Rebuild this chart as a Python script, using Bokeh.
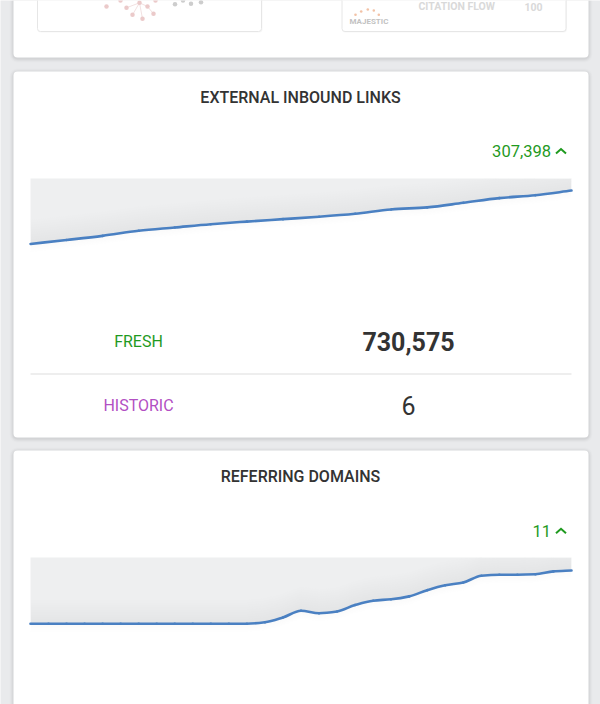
from bokeh.plotting import figure
from bokeh.models import Range1d
from bokeh.core.properties import value
from bokeh.embed import file_html
from bokeh.resources import INLINE

# ---------------- data ----------------
links_values = [423177, 446000, 470000, 499000, 518000, 537000, 552000, 566000,
                580000, 597000, 622000, 634000, 660000, 687000, 704000, 730575]
links_axis_max = 800000
links_title = "EXTERNAL INBOUND LINKS"
links_change = "307,398"
links_labels = ["FRESH", "HISTORIC"]
links_numbers = ["730,575", "6"]

domains_values = [16.2, 16.2, 16.2, 16.2, 16.2, 16.2, 16.2, 16.2, 16.2, 16.2,
                  16.2, 16.2, 16.2, 16.5, 17.5, 18.9, 18.4, 18.75, 20.1, 21.0,
                  21.3, 21.9, 23.2, 24.2, 24.8, 26.2, 26.4, 26.4, 26.5, 27.1, 27.3]
domains_axis_max = 30
domains_title = "REFERRING DOMAINS"
domains_change = "11"

# faded top card contents (network thumbnail + Majestic box)
net_pink_x = [106, 120, 126, 132, 139, 142, 147, 153, 155]
net_pink_y = [6, 0, 7.3, 14.3, 2.3, 18.3, 6, 13.3, 0]
net_grey_x = [174.5, 182.5, 190.5, 200.5]
net_grey_y = [3.7, 0, 3.3, 1.7]
majestic_dot_x = [355, 360.7, 367.3, 373.3, 378.3]
majestic_dot_y = [14.3, 11, 9, 10, 14.3]

# ---------------- layout / style ----------------
W, H = 600, 704
BG = "#e9eaec"
GREEN = "#1f9a1f"
PURPLE = "#b24fc3"
DARK = "#333333"
LINE_BLUE = "#4a80c2"
FONT = value("Roboto")
TITLE_FONT = value("Roboto Medium, Roboto")


def sy(y):
    return H - y


p = figure(width=W, height=H, x_range=Range1d(0, W), y_range=Range1d(0, H),
           x_axis_type=None, y_axis_type=None, toolbar_location=None, tools="",
           output_backend="svg", min_border=0, outline_line_color=None,
           background_fill_color=BG, border_fill_color=BG)

# ---- cards ----
cards = [(13, 588, -10, 57), (13, 588, 71, 437), (13, 588, 450, 730)]
for (l, r, t, b) in cards:
    for d, a in [(4, 0.012), (3, 0.018), (2, 0.025), (1, 0.035)]:
        p.quad(left=l - d, right=r + d, top=sy(t - d + 1), bottom=sy(b + d + 1),
               fill_color="black", fill_alpha=a, line_color=None, border_radius=4 + d)
    p.quad(left=l, right=r, top=sy(t), bottom=sy(b), fill_color="white",
           line_color=None, border_radius=4)

# ---- top card inner boxes (faded) ----
for (l, r) in [(37, 261), (341.5, 565.5)]:
    p.quad(left=l, right=r + 1, top=sy(-10), bottom=sy(32), fill_color="black",
           fill_alpha=0.03, line_color=None, border_radius=3)
    p.quad(left=l, right=r, top=sy(-10), bottom=sy(31), fill_color="white",
           line_color="#e6e6e6", line_width=1, border_radius=3)

hub = (139, 2.3)
p.segment(x0=[hub[0]] * 4, y0=[sy(hub[1])] * 4,
          x1=[132, 142, 126, 147], y1=[sy(14.3), sy(18.3), sy(7.3), sy(6)],
          line_color="#efd9d9", line_width=0.8)
p.segment(x0=[147], y0=[sy(6)], x1=[153], y1=[sy(13.3)], line_color="#efd9d9", line_width=0.8)
p.scatter(x=net_pink_x, y=[sy(v) for v in net_pink_y], size=4.5,
          fill_color="#ebcaca", line_color=None)
p.scatter(x=net_grey_x, y=[sy(v) for v in net_grey_y], size=4.5,
          fill_color="#cdcdcd", line_color=None)
p.scatter(x=majestic_dot_x, y=[sy(v) for v in majestic_dot_y], size=2.6,
          fill_color="#f2c2a6", line_color=None)
p.text(x=[349], y=[sy(21)], text=["MAJESTIC"], text_font=FONT, text_font_size="8px",
       text_font_style="bold", text_color="#c2c2c2", text_align="left",
       text_baseline="middle")
p.text(x=[418, 524], y=[sy(6.3), sy(6.3)], text=["CITATION FLOW", "100"], text_font=FONT,
       text_font_size="10.5px", text_font_style="bold", text_color="#d9d9d9",
       text_align="left", text_baseline="middle")


# ---- sparkline charts ----
def monotone_tangents(xs, ys):
    n = len(xs)
    d = [(ys[i + 1] - ys[i]) / (xs[i + 1] - xs[i]) for i in range(n - 1)]
    m = [d[0]] + [0.0] * (n - 2) + [d[-1]]
    for i in range(1, n - 1):
        if d[i - 1] * d[i] <= 0:
            m[i] = 0.0
        else:
            m[i] = 2.0 / (1.0 / d[i - 1] + 1.0 / d[i])
    return m


def add_chart(name, vals, vmax, x0, x1, ytop, ybot):
    n = len(vals)
    kx = (n - 1) / (x1 - x0)
    xs = -x0 * kx
    p.extra_x_ranges[name] = Range1d(xs, xs + W * kx)
    p0, p1 = H - ybot, H - ytop
    ky = vmax / (p1 - p0)
    ys = -p0 * ky
    p.extra_y_ranges[name] = Range1d(ys, ys + H * ky)
    idx = list(range(n))
    kw = dict(x_range_name=name, y_range_name=name)
    # shadow below line
    for k in range(1, 6):
        p.varea(x=idx, y1=[v - k * 1.6 * ky for v in vals], y2=vals,
                fill_color="#9a9ca0", fill_alpha=0.012, **kw)
    # grey area from line to top
    p.varea(x=idx, y1=vals, y2=[vmax] * n, fill_color="#eeeff0", **kw)
    # darker band above the line
    for k in range(1, 11):
        p.varea(x=idx, y1=vals, y2=[min(vmax, v + k * 2.4 * ky) for v in vals],
                fill_color="#b9bcc0", fill_alpha=0.02, **kw)
    # smooth (monotone cubic) line through the data points
    m = monotone_tangents(idx, vals)
    p.bezier(x0=idx[:-1], y0=vals[:-1], x1=idx[1:], y1=vals[1:],
             cx0=[i + 1 / 3 for i in idx[:-1]],
             cy0=[vals[i] + m[i] / 3 for i in range(n - 1)],
             cx1=[i + 2 / 3 for i in idx[:-1]],
             cy1=[vals[i + 1] - m[i + 1] / 3 for i in range(n - 1)],
             line_color=LINE_BLUE, line_width=2.6, line_cap="round", **kw)


add_chart("links", links_values, links_axis_max, 30, 571, 178, 317)
add_chart("domains", domains_values, domains_axis_max, 30, 571, 557, 701)


# ---- texts (y = visual centre of capitals) ----
def title(txt, cy):
    p.text(x=[300], y=[sy(cy)], text=[txt], text_font=TITLE_FONT, text_font_size="16px",
           text_color=DARK, text_align="center", text_baseline="middle")


def change(txt, cy):
    p.text(x=[550.5], y=[sy(cy)], text=[txt], text_font=FONT, text_font_size="16.5px",
           text_color=GREEN, text_align="right", text_baseline="middle")
    p.line(x=[555.5, 560.5, 565.5], y=[sy(cy + 2.5), sy(cy - 2), sy(cy + 2.5)],
           line_color=GREEN, line_width=2.0, line_join="miter")


title(links_title, 97)
change(links_change, 150.5)

p.text(x=[138, 138], y=[sy(341.2), sy(405.2)], text=links_labels, text_font=FONT,
       text_font_size="16px", text_color=[GREEN, PURPLE], text_align="center",
       text_baseline="middle")
p.text(x=[408], y=[sy(341)], text=[links_numbers[0]], text_font=FONT, text_font_size="25px",
       text_font_style="bold", text_color=DARK, text_align="center", text_baseline="middle")
p.text(x=[408], y=[sy(404.5)], text=[links_numbers[1]], text_font=FONT, text_font_size="25px",
       text_color=DARK, text_align="center", text_baseline="middle")
p.segment(x0=[30], y0=[sy(373.5)], x1=[571], y1=[sy(373.5)], line_color="#dddddd", line_width=1)

title(domains_title, 475.8)
change(domains_change, 530.3)

open("out.html", "w").write(file_html(p, INLINE))
